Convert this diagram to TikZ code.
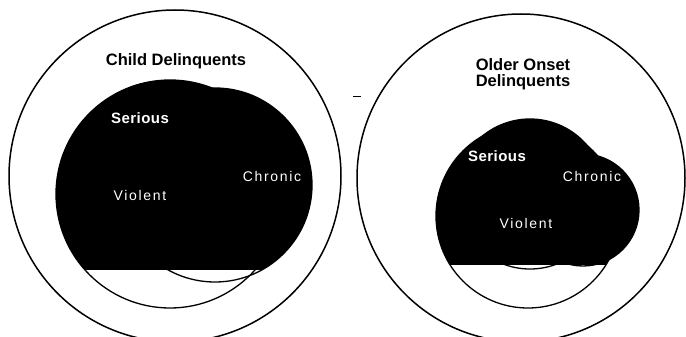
\documentclass[tikz,border=0pt]{standalone}
\usepackage{fontspec}
\setmainfont{Liberation Sans}
\begin{document}
\begin{tikzpicture}[x=1pt,y=-1pt,
  ring/.style={draw=black,line width=1.5pt},
  setline/.style={draw=black,line width=1.3pt},
  title/.style={font=\fontsize{16.5}{16}\selectfont\bfseries,align=center,text=black,inner sep=0pt},
  boldlab/.style={font=\fontsize{15}{16}\selectfont\bfseries\addfontfeature{LetterSpace=3},text=white,inner sep=0pt},
  lab/.style={font=\fontsize{14}{16}\selectfont\addfontfeature{LetterSpace=12},text=white,inner sep=0pt}]
\useasboundingbox (0,0) rectangle (686,337);
\fill[white] (0,0) rectangle (686,337);
% centres
\coordinate (LO) at (175,176);
\coordinate (LS) at (165,175);
\coordinate (LV) at (170,194);
\coordinate (LC) at (215,185);
\coordinate (RO) at (521,178);
\coordinate (RS) at (530,194);
\coordinate (RV) at (528,216);
\coordinate (RC) at (583,210);
% left black blob
\begin{scope}
  \clip (0,0) rectangle (343,269);
  \fill[black] (LS) circle[radius=94pt];
  \fill[black] (LV) circle[radius=114pt];
  \fill[black] (LC) circle[radius=97pt];
\end{scope}
\draw[setline] (LS) circle[radius=94pt];
\draw[setline] (LV) circle[radius=114pt];
\draw[setline] (LC) circle[radius=97pt];
% right black blob
\begin{scope}
  \clip (343,0) rectangle (686,264);
  \fill[black] (RS) circle[radius=75pt];
  \fill[black] (RV) circle[radius=92pt];
  \fill[black] (RC) circle[radius=56pt];
\end{scope}
\draw[setline] (RS) circle[radius=75pt];
\draw[setline] (RV) circle[radius=92pt];
\draw[setline] (RC) circle[radius=56pt];
% outer circles
\draw[ring] (LO) circle[radius=166pt];
\draw[ring] (RO) circle[radius=164pt];
\coordinate (d1) at (353,96);
\coordinate (d2) at (361,96);
\draw[line width=0.8pt] (d1) -- (d2);
% titles
\node[title] (t1) at (176,61) {Child Delinquents};
\node[title] (t2) at (523,74) {Older Onset\\Delinquents};
% labels
\node[boldlab] (ls) at (140,118) {Serious};
\node[lab] (lv) at (140,195) {Violent};
\node[lab] (lc) at (272,176) {Chronic};
\node[boldlab] (rs) at (497,156) {Serious};
\node[lab] (rc) at (592,176) {Chronic};
\node[lab] (rv) at (526,223) {Violent};
\end{tikzpicture}
\end{document}
